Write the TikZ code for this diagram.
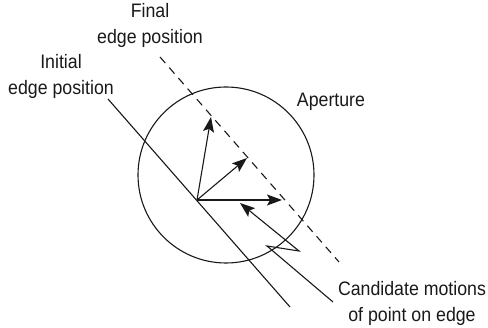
\documentclass[tikz,border=0pt]{standalone}
\usepackage{fontspec}
\setmainfont{Liberation Sans}[FakeStretch=0.91]
\usetikzlibrary{arrows.meta}
\begin{document}
\begin{tikzpicture}[x=1pt,y=-1pt,
  every node/.style={inner sep=0pt, align=center, font=\fontsize{19.5}{26}\selectfont, text=black!90},
  ln/.style={line width=1.1pt, black!90},
  motion/.style={ln, -{Stealth[length=15pt,width=11pt,inset=3pt]}},
  dashline/.style={ln, dash pattern=on 8pt off 6pt}]
\useasboundingbox (0,0) rectangle (488,328);
% aperture
\node[draw, ln, circle, minimum size=176pt] (ap) at (226,175) {};
% edges
\coordinate (i0) at (108,99);
\coordinate (i1) at (290,307);
\coordinate (f0) at (160,57);
\coordinate (f1) at (339,262);
\draw[ln] (i0) -- (i1);
\draw[dashline] (f0) -- (f1);
% motions
\coordinate (o) at (197,200);
\coordinate (t1) at (211,117);
\coordinate (t2) at (247,158);
\coordinate (t3) at (282,200);
\draw[motion] (o) -- (t1);
\draw[motion] (o) -- (t2);
\draw[motion] (o) -- (t3);
% labels
\node (final) at (150,25) {Final\\edge position};
\node (initial) at (61,76) {Initial\\edge position};
\node (aplabel) at (331,102) {Aperture};
\node (cand) at (412,303) {Candidate motions\\of point on edge};
% leader
\coordinate (c0) at (333,302);
\coordinate (z1) at (267,246);
\coordinate (z2) at (299,251);
\coordinate (pt) at (240,203);
\draw[ln, -{Stealth[length=15pt,width=11pt,inset=3pt]}] (c0) -- (z1) -- (z2) -- (pt);
\end{tikzpicture}
\end{document}
